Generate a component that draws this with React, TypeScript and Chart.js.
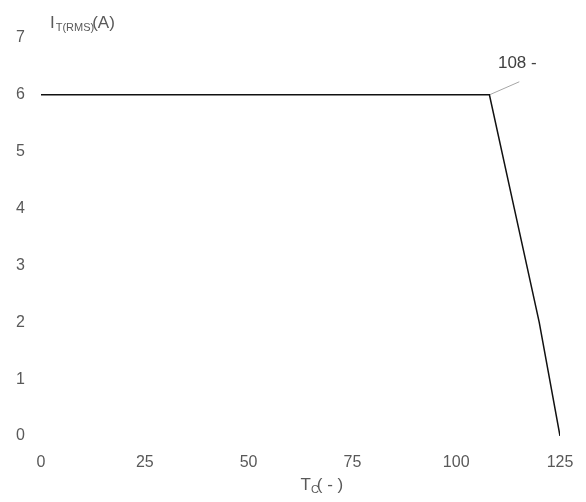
import React, { useEffect, useRef } from "react";
import { Chart, registerables } from "chart.js";

Chart.register(...registerables);

// Data
const curveX = [0, 108, 114, 120, 125];
const curveY = [6, 6, 4, 2, 0];
const leaderX = [108, 115.2];
const leaderY = [6, 6.23];
const annotationText = "108 -";
const xTickStep = 25;
const xMin = 0;
const xMax = 125;
const yTickStep = 1;
const yMin = 0;
const yMax = 7;
const yTitleMain = "I";
const yTitleSub = "T(RMS)";
const yTitleTail = "(A)";
const xTitleMain = "T";
const xTitleSub = "C";
const xTitleTail = "( - )";

const FONT = "'Liberation Sans Narrow', 'Liberation Sans', Arial, sans-serif";
const GREY = "#595959";

const titlesPlugin = {
  id: "titlesPlugin",
  afterDraw(chart: any) {
    const ctx = chart.ctx;
    const area = chart.chartArea;
    const xs = chart.scales.x;
    const ys = chart.scales.y;
    ctx.save();
    ctx.fillStyle = GREY;
    ctx.textBaseline = "alphabetic";
    ctx.textAlign = "left";

    // Y title
    let x = area.left + 9;
    let base = area.top - 10;
    ctx.font = `17px ${FONT}`;
    ctx.fillText(yTitleMain, x, base);
    x += ctx.measureText(yTitleMain).width + 1;
    ctx.font = `11px ${FONT}`;
    ctx.fillText(yTitleSub, x, base + 3);
    x += ctx.measureText(yTitleSub).width - 2;
    ctx.font = `17px ${FONT}`;
    ctx.fillText(yTitleTail, x, base);

    // X title
    x = (area.left + area.right) / 2;
    base = area.bottom + 54;
    ctx.font = `17px ${FONT}`;
    ctx.fillText(xTitleMain, x, base);
    x += ctx.measureText(xTitleMain).width;
    ctx.font = `11px ${FONT}`;
    ctx.fillText(xTitleSub, x, base + 3);
    x += ctx.measureText(xTitleSub).width - 2;
    ctx.font = `17px ${FONT}`;
    ctx.fillText(xTitleTail, x, base);

    // annotation label
    const ex = xs.getPixelForValue(leaderX[1]);
    const ey = ys.getPixelForValue(leaderY[1]);
    ctx.textAlign = "center";
    ctx.font = `17px ${FONT}`;
    ctx.fillStyle = "#404040";
    ctx.fillText(annotationText, ex - 2, ey - 14);
    ctx.restore();
  },
};

export default function App() {
  const canvasRef = useRef<HTMLCanvasElement | null>(null);

  useEffect(() => {
    if (!canvasRef.current) return;
    const chart = new Chart(canvasRef.current, {
      type: "line",
      data: {
        datasets: [
          {
            data: curveX.map((v, i) => ({ x: v, y: curveY[i] })),
            borderColor: "#111111",
            borderWidth: 1.5,
            pointRadius: 0,
            tension: 0,
            fill: false,
          },
          {
            data: leaderX.map((v, i) => ({ x: v, y: leaderY[i] })),
            borderColor: "#a6a6a6",
            borderWidth: 1,
            pointRadius: 0,
            tension: 0,
            fill: false,
          },
        ],
      },
      options: {
        animation: false,
        responsive: true,
        maintainAspectRatio: false,
        layout: { padding: { top: 38, right: 26, left: 0, bottom: 0 } },
        plugins: {
          legend: { display: false },
          tooltip: { enabled: false },
          title: { display: false },
        },
        scales: {
          x: {
            type: "linear",
            min: xMin,
            max: xMax,
            border: { display: false },
            grid: { display: false, drawTicks: false },
            ticks: {
              stepSize: xTickStep,
              color: GREY,
              padding: 17,
              maxRotation: 0,
              font: { family: FONT, size: 16 },
            },
            afterFit: (s: any) => {
              s.height = 66;
              s.paddingRight = 0;
              s.paddingLeft = 0;
            },
          },
          y: {
            type: "linear",
            min: yMin,
            max: yMax,
            border: { display: false },
            grid: { display: false, drawTicks: false },
            ticks: {
              stepSize: yTickStep,
              color: GREY,
              padding: 16,
              font: { family: FONT, size: 16 },
            },
            afterFit: (s: any) => {
              s.width = 41;
            },
          },
        },
      },
      plugins: [titlesPlugin],
    });
    return () => chart.destroy();
  }, []);

  return (
    <div style={{ position: "fixed", left: 0, top: 0, width: 586, height: 502, background: "#fff" }}>
      <canvas ref={canvasRef} />
    </div>
  );
}
